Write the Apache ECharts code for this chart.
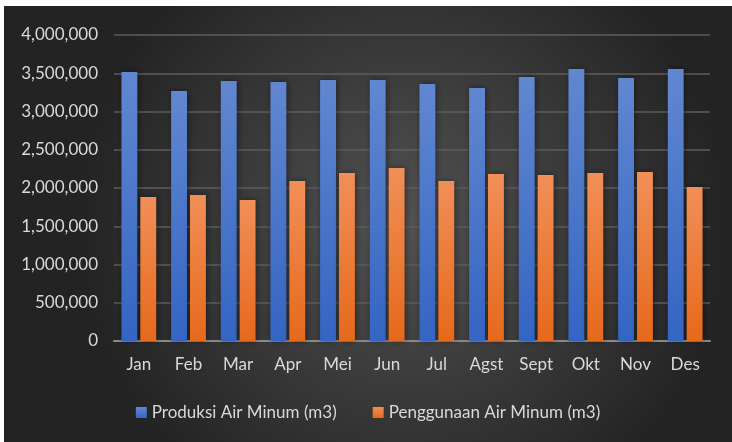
<!DOCTYPE html>
<html lang="id">
<head>
    <meta charset="UTF-8">
    <title>Produksi dan Penggunaan Air Minum</title>
    <script src="https://cdn.jsdelivr.net/npm/echarts@6/dist/echarts.min.js"></script>
    <style>
      body {
        margin: 0;
        background: #ffffff;
      }
      #main {
        position: absolute;
        left: 4px;
        top: 6px;
        width: 728px;
        height: 436px;
      }
    </style>
</head>
<body>
    <div id="main"></div>
    <script>
      // data
      const bulan = ["Jan", "Feb", "Mar", "Apr", "Mei", "Jun", "Jul", "Agst", "Sept", "Okt", "Nov", "Des"];
      const produksi = [3516000, 3268000, 3399000, 3386000, 3412000, 3412000, 3359000, 3307000, 3451000, 3556000, 3438000, 3556000];
      const penggunaan = [1882000, 1908000, 1843000, 2092000, 2196000, 2261000, 2092000, 2183000, 2170000, 2196000, 2209000, 2013000];
      const namaSeri = ["Produksi Air Minum (m3)", "Penggunaan Air Minum (m3)"];

      var myChart = echarts.init(document.getElementById("main"));
      var font = "Lato, 'Open Sans', sans-serif";

      function grad(top, bottom) {
        return new echarts.graphic.LinearGradient(0, 0, 0, 1, [
          { offset: 0, color: top },
          { offset: 1, color: bottom }
        ]);
      }

      var option = {
        backgroundColor: new echarts.graphic.RadialGradient(0.55, 0.5, 0.75, [
          { offset: 0, color: "#525252" },
          { offset: 1, color: "#232323" }
        ]),
        textStyle: { fontFamily: font },
        grid: {
          left: 110,
          right: 22,
          top: 29,
          bottom: 101
        },
        legend: {
          bottom: 16,
          itemWidth: 11,
          itemHeight: 11,
          itemGap: 36,
          icon: "rect",
          textStyle: { color: "#d9d9d9", fontSize: 17, fontFamily: font },
          data: namaSeri
        },
        xAxis: {
          type: "category",
          data: bulan,
          axisTick: { show: false },
          axisLine: { lineStyle: { color: "#8a8a8a", width: 2 } },
          axisLabel: { color: "#d9d9d9", fontSize: 17, margin: 15 }
        },
        yAxis: {
          type: "value",
          min: 0,
          max: 4000000,
          interval: 500000,
          axisLine: { show: false },
          axisTick: { show: false },
          splitLine: { lineStyle: { color: "#5e5e5e", width: 1.5 } },
          axisLabel: {
            color: "#d9d9d9",
            fontSize: 17,
            margin: 16,
            formatter: function (v) {
              return v.toLocaleString("en-US");
            }
          }
        },
        series: [
          {
            name: namaSeri[0],
            type: "bar",
            data: produksi,
            barGap: "19%",
            barCategoryGap: "30%",
            itemStyle: {
              color: grad("#6187d0", "#3465c3"),
              shadowColor: "rgba(0,0,0,0.45)",
              shadowBlur: 6,
              shadowOffsetX: 1
            }
          },
          {
            name: namaSeri[1],
            type: "bar",
            data: penggunaan,
            itemStyle: {
              color: grad("#f18f58", "#e6691b"),
              shadowColor: "rgba(0,0,0,0.45)",
              shadowBlur: 6,
              shadowOffsetX: 1
            }
          }
        ]
      };
      myChart.setOption(option);
    </script>
</body>
</html>
